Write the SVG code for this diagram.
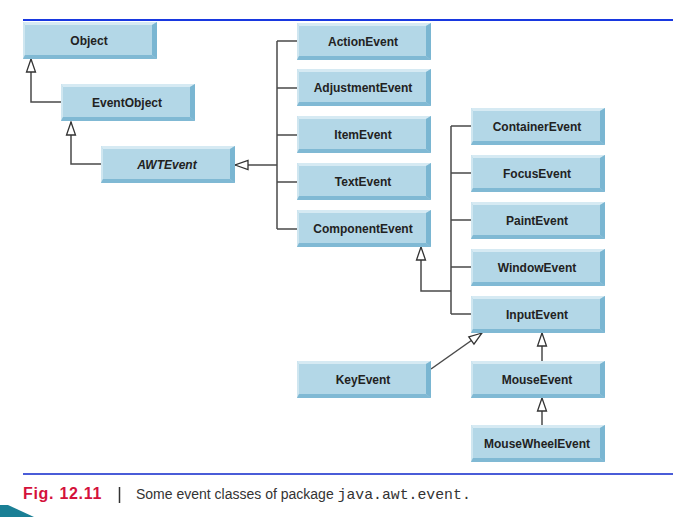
<svg xmlns="http://www.w3.org/2000/svg" xmlns:xlink="http://www.w3.org/1999/xlink" width="700" height="517" viewBox="0 0 700 517">
<style>
.lbl{font-family:"Liberation Sans",Arial,sans-serif;font-weight:bold;font-size:12px;fill:#222;text-anchor:middle}
.it{font-style:italic}
.conn{fill:none;stroke:#4a4a4a;stroke-width:1.5}
.arr{marker-end:url(#hollow)}
</style>
<defs>
<marker id="hollow" viewBox="-15 -7 17 14" refX="0" refY="0" markerWidth="17" markerHeight="14" markerUnits="userSpaceOnUse" orient="auto">
<path d="M0,0 L-13,-4.5 L-13,4.5 Z" fill="#fff" stroke="#333" stroke-width="1.3" stroke-linejoin="miter"/>
</marker>
<g id="box">
<rect x="0" y="0" width="134" height="37" fill="#b3d7e7"/>
<polygon points="0,0 134,0 129,3 2,3" fill="#d6eaf3"/>
<polygon points="0,0 2,3 2,33 0,37" fill="#cfe6f0"/>
<polygon points="134,0 134,37 129,33 129,3" fill="#7ab6d2"/>
<polygon points="0,37 134,37 129,33 2,33" fill="#80b9d4"/>
</g>
</defs>
<rect width="700" height="517" fill="#fff"/>
<line x1="23" y1="20" x2="673" y2="20" stroke="#1838e0" stroke-width="2"/>
<line x1="23" y1="474" x2="673" y2="474" stroke="#4a5cd8" stroke-width="2"/>
<polygon points="0,505 8,505 34,517 0,517" fill="#1a7f95"/>

<g id="connectors">
<path class="conn arr" d="M61,102 H31 V59"/>
<path class="conn arr" d="M101,164 H71 V122"/>
<path class="conn" d="M277,41 V229 M277,41 H297 M277,88 H297 M277,135 H297 M277,182 H297 M277,229 H297"/>
<path class="conn arr" d="M277,165 H235"/>
<path class="conn" d="M451,126 V314 M451,126 H471 M451,173 H471 M451,220 H471 M451,267 H471 M451,314 H471"/>
<path class="conn arr" d="M451,291 H421 V247"/>
<path class="conn arr" d="M431,369 L482,333"/>
<path class="conn arr" d="M542,361 V333"/>
<path class="conn arr" d="M542,425 V398"/>
</g>

<g id="Object"><use xlink:href="#box" x="23" y="22"/><text class="lbl" x="89" y="45">Object</text></g>
<g id="EventObject"><use xlink:href="#box" x="61" y="84"/><text class="lbl" x="127" y="107">EventObject</text></g>
<g id="AWTEvent"><use xlink:href="#box" x="101" y="146"/><text class="lbl it" x="167" y="169">AWTEvent</text></g>
<g id="ActionEvent"><use xlink:href="#box" x="297" y="23"/><text class="lbl" x="363" y="46">ActionEvent</text></g>
<g id="AdjustmentEvent"><use xlink:href="#box" x="297" y="69"/><text class="lbl" x="363" y="92">AdjustmentEvent</text></g>
<g id="ItemEvent"><use xlink:href="#box" x="297" y="116"/><text class="lbl" x="363" y="139">ItemEvent</text></g>
<g id="TextEvent"><use xlink:href="#box" x="297" y="163"/><text class="lbl" x="363" y="186">TextEvent</text></g>
<g id="ComponentEvent"><use xlink:href="#box" x="297" y="210"/><text class="lbl" x="363" y="233">ComponentEvent</text></g>
<g id="ContainerEvent"><use xlink:href="#box" x="471" y="108"/><text class="lbl" x="537" y="131">ContainerEvent</text></g>
<g id="FocusEvent"><use xlink:href="#box" x="471" y="155"/><text class="lbl" x="537" y="178">FocusEvent</text></g>
<g id="PaintEvent"><use xlink:href="#box" x="471" y="202"/><text class="lbl" x="537" y="225">PaintEvent</text></g>
<g id="WindowEvent"><use xlink:href="#box" x="471" y="249"/><text class="lbl" x="537" y="272">WindowEvent</text></g>
<g id="InputEvent"><use xlink:href="#box" x="471" y="296"/><text class="lbl" x="537" y="319">InputEvent</text></g>
<g id="KeyEvent"><use xlink:href="#box" x="297" y="361"/><text class="lbl" x="363" y="384">KeyEvent</text></g>
<g id="MouseEvent"><use xlink:href="#box" x="471" y="361"/><text class="lbl" x="537" y="384">MouseEvent</text></g>
<g id="MouseWheelEvent"><use xlink:href="#box" x="471" y="425"/><text class="lbl" x="537" y="448">MouseWheelEvent</text></g>

<g id="caption">
<text x="23" y="499" font-family="'Liberation Sans',Arial,sans-serif" font-weight="bold" font-size="16" letter-spacing="0.7" fill="#d4113b">Fig. 12.11</text>
<line x1="119.5" y1="487" x2="119.5" y2="503" stroke="#333" stroke-width="1.5"/>
<text x="136" y="499" font-family="'Liberation Sans',Arial,sans-serif" font-size="14" fill="#333">Some event classes of package <tspan font-family="'Liberation Mono','Courier New',monospace" font-size="14.8">java.awt.event.</tspan></text>
</g>
</svg>
